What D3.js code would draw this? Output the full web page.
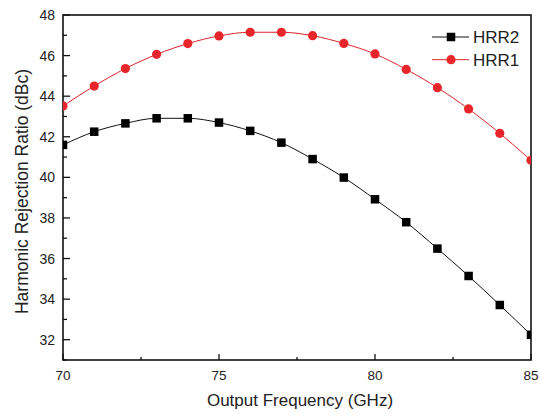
<!DOCTYPE html>
<html>
<head>
  <meta charset="utf-8">
  <title>HRR chart</title>
  <style>
    body { margin: 0; background: #fff; }
    text { font-family: "Liberation Sans", Arial, sans-serif; fill: #222; }
  </style>
</head>
<body>
  <div id="chart"></div>
  <script src="https://cdn.jsdelivr.net/npm/d3@7"></script>
  <script type="text/javascript">
    var freqs = [70, 71, 72, 73, 74, 75, 76, 77, 78, 79, 80, 81, 82, 83, 84, 85];
    var hrr2 = [41.6, 42.25, 42.66, 42.91, 42.91, 42.7, 42.29, 41.71, 40.9, 39.99, 38.92, 37.79, 36.49, 35.14, 33.71, 32.24];
    var hrr1 = [43.52, 44.5, 45.36, 46.06, 46.59, 46.97, 47.15, 47.15, 46.98, 46.6, 46.08, 45.32, 44.42, 43.37, 42.17, 40.84];
    var xTicks = [70, 75, 80, 85];
    var yTicks = [32, 34, 36, 38, 40, 42, 44, 46, 48];

    var w = 539;
    var h = 414;
    var pLeft = 63, pRight = 531, pTop = 15, pBottom = 360;

    var svg = d3.select("#chart")
      .append("svg")
      .attr("width", w)
      .attr("height", h);

    var x = d3.scaleLinear().domain([70, 85]).range([pLeft, pRight]);
    var y = d3.scaleLinear().domain([31, 48]).range([pBottom, pTop]);

    // frame
    svg.append("rect")
      .attr("x", pLeft).attr("y", pTop)
      .attr("width", pRight - pLeft).attr("height", pBottom - pTop)
      .attr("fill", "none").attr("stroke", "#111").attr("stroke-width", 1.6);

    // x ticks (inward)
    svg.selectAll(".xt")
      .data(d3.range(70, 85.01, 2.5))
      .enter().append("line")
      .attr("x1", function(d) { return x(d); })
      .attr("x2", function(d) { return x(d); })
      .attr("y1", pBottom)
      .attr("y2", function(d) { return pBottom - (d % 5 === 0 ? 6 : 3); })
      .attr("stroke", "#111").attr("stroke-width", 1.3);

    svg.selectAll(".xl")
      .data(xTicks)
      .enter().append("text")
      .attr("x", function(d) { return x(d); })
      .attr("y", 380)
      .attr("text-anchor", "middle")
      .attr("font-size", 13.5)
      .text(function(d) { return d; });

    // y ticks (inward)
    svg.selectAll(".yt")
      .data(d3.range(31, 48.01, 1))
      .enter().append("line")
      .attr("x1", pLeft)
      .attr("x2", function(d) { return pLeft + (d % 2 === 0 ? 7 : 4); })
      .attr("y1", function(d) { return y(d); })
      .attr("y2", function(d) { return y(d); })
      .attr("stroke", "#111").attr("stroke-width", 1.3);

    svg.selectAll(".yl")
      .data(yTicks)
      .enter().append("text")
      .attr("x", 55)
      .attr("y", function(d) { return y(d) + 5; })
      .attr("text-anchor", "end")
      .attr("font-size", 14)
      .text(function(d) { return d; });

    // axis titles
    svg.append("text")
      .attr("x", 300)
      .attr("y", 406)
      .attr("text-anchor", "middle")
      .attr("font-size", 17)
      .text("Output Frequency (GHz)");

    svg.append("text")
      .attr("transform", "translate(28,191.5) rotate(-90)")
      .attr("text-anchor", "middle")
      .attr("font-size", 17.5)
      .text("Harmonic Rejection Ratio (dBc)");

    var line = d3.line()
      .x(function(d, i) { return x(freqs[i]); })
      .y(function(d) { return y(d); })
      .curve(d3.curveMonotoneX);

    svg.append("clipPath").attr("id", "clip")
      .append("rect").attr("x", pLeft).attr("y", pTop)
      .attr("width", pRight - pLeft).attr("height", pBottom - pTop);
    var plot = svg.append("g").attr("clip-path", "url(#clip)");

    plot.append("path")
      .datum(hrr2)
      .attr("d", line)
      .attr("fill", "none").attr("stroke", "#111").attr("stroke-width", 1);

    plot.append("path")
      .datum(hrr1)
      .attr("d", line)
      .attr("fill", "none").attr("stroke", "#d9262b").attr("stroke-width", 1);

    var sq = 8.5;
    plot.append("g")
      .selectAll("rect")
      .data(hrr2)
      .enter().append("rect")
      .attr("x", function(d, i) { return x(freqs[i]) - sq / 2; })
      .attr("y", function(d) { return y(d) - sq / 2; })
      .attr("width", sq).attr("height", sq)
      .attr("fill", "#000");

    plot.append("g")
      .selectAll("circle")
      .data(hrr1)
      .enter().append("circle")
      .attr("cx", function(d, i) { return x(freqs[i]); })
      .attr("cy", function(d) { return y(d); })
      .attr("r", 4.6)
      .attr("fill", "#e8252b");

    // legend
    var legend = [
      { name: "HRR2", color: "#111", shape: "square" },
      { name: "HRR1", color: "#d9262b", shape: "circle" }
    ];
    var lg = svg.selectAll(".lg")
      .data(legend)
      .enter().append("g")
      .attr("transform", function(d, i) { return "translate(0," + (37 + i * 22.7) + ")"; });
    lg.append("line")
      .attr("x1", 432).attr("x2", 469).attr("y1", 0).attr("y2", 0)
      .attr("stroke", function(d) { return d.color; }).attr("stroke-width", 1);
    lg.filter(function(d) { return d.shape === "square"; })
      .append("rect")
      .attr("x", 451 - sq / 2).attr("y", -sq / 2).attr("width", sq).attr("height", sq)
      .attr("fill", "#000");
    lg.filter(function(d) { return d.shape === "circle"; })
      .append("circle")
      .attr("cx", 451).attr("cy", 0).attr("r", 4.6)
      .attr("fill", "#e8252b");
    lg.append("text")
      .attr("x", 473).attr("y", 6)
      .attr("font-size", 17)
      .text(function(d) { return d.name; });
  </script>
</body>
</html>
